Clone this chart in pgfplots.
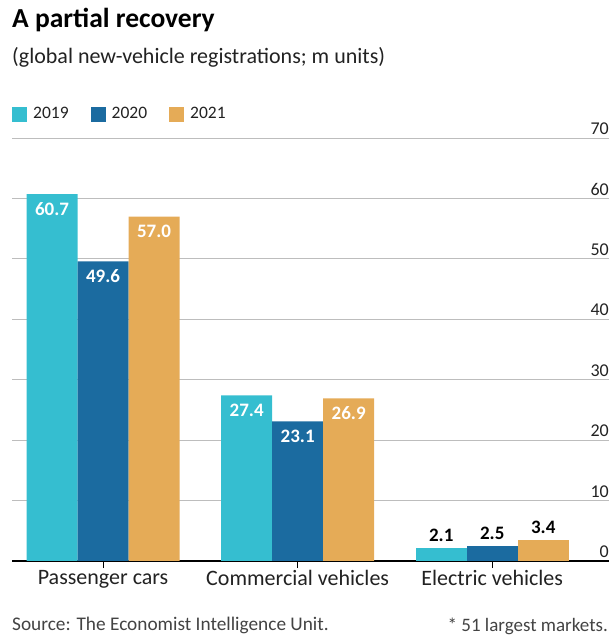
\documentclass[border=0pt]{standalone}
\usepackage{pgfplots}
\pgfplotsset{compat=1.18}
\usepackage{fontspec}
\setmainfont{Carlito}

\definecolor{c19}{HTML}{35BED0}
\definecolor{c20}{HTML}{1B6BA0}
\definecolor{c21}{HTML}{E5AB57}
\definecolor{gridc}{HTML}{BDBDBD}
\definecolor{txt}{HTML}{222222}

\begin{document}
\begin{tikzpicture}
\begin{axis}[
  at={(0,0)}, anchor=south west,
  width=597bp, height=423bp, scale only axis,
  xmin=-0.468, xmax=2.60,
  ymin=0, ymax=70,
  ybar, bar width=51bp,
  axis line style={draw=none},
  ytick={10,20,...,70},
  extra y ticks={0},
  ymajorgrids,
  grid style={gridc, line width=0.9bp},
  extra y tick style={grid style={black, line width=1.4bp}},
  ytick style={draw=none},
  yticklabel pos=right,
  yticklabel style={anchor=south east, inner sep=0pt, yshift=3bp, font=\fontsize{18bp}{20bp}\selectfont, text=txt},
  /pgf/number format/assume math mode=true,
  xtick={0,1,2},
  xticklabels={Passenger cars, Commercial vehicles, Electric vehicles},
  xtick pos=bottom, xtick align=outside,
  major tick length=7bp,
  xtick style={black, line width=0.9bp},
  xticklabel style={font=\fontsize{22bp}{24bp}\selectfont, text=txt, yshift=1bp},
  legend style={at={(0,1)}, anchor=west, yshift=24bp, draw=none, fill=none, inner sep=0pt,
    nodes={inner sep=0pt, font=\fontsize{17.5bp}{19bp}\selectfont, text=txt},
    /tikz/every odd column/.append style={column sep=6bp},
    /tikz/every even column/.append style={column sep=22bp}},
  legend columns=3,
  nodes near coords={\pgfmathprintnumber[fixed,fixed zerofill,precision=1]{\pgfplotspointmeta}},
]
\addplot[fill=c19, draw=none, bar shift=-51bp,
  legend image code/.code={\fill[c19] (0bp,-7.5bp) rectangle (15bp,7.5bp);},
  nodes near coords style={white, anchor=north, yshift=-5bp, font=\bfseries\fontsize{19bp}{21bp}\selectfont}]
  coordinates {(0,60.7) (1,27.4)};
\addplot[fill=c20, draw=none, bar shift=0bp,
  legend image code/.code={\fill[c20] (0bp,-7.5bp) rectangle (15bp,7.5bp);},
  nodes near coords style={white, anchor=north, yshift=-5bp, font=\bfseries\fontsize{19bp}{21bp}\selectfont}]
  coordinates {(0,49.6) (1,23.1)};
\addplot[fill=c21, draw=none, bar shift=51bp,
  legend image code/.code={\fill[c21] (0bp,-7.5bp) rectangle (15bp,7.5bp);},
  nodes near coords style={white, anchor=north, yshift=-5bp, font=\bfseries\fontsize{19bp}{21bp}\selectfont}]
  coordinates {(0,57.0) (1,26.9)};
\addplot[forget plot, fill=c19, draw=none, bar shift=-51bp,
  nodes near coords style={black, anchor=south, yshift=3bp, font=\bfseries\fontsize{19bp}{21bp}\selectfont}]
  coordinates {(2,2.1)};
\addplot[forget plot, fill=c20, draw=none, bar shift=0bp,
  nodes near coords style={black, anchor=south, yshift=3bp, font=\bfseries\fontsize{19bp}{21bp}\selectfont}]
  coordinates {(2,2.5)};
\addplot[forget plot, fill=c21, draw=none, bar shift=51bp,
  nodes near coords style={black, anchor=south, yshift=3bp, font=\bfseries\fontsize{19bp}{21bp}\selectfont}]
  coordinates {(2,3.4)};
\legend{2019, 2020, 2021}
\end{axis}
\node[anchor=base west, inner sep=0pt, font=\bfseries\fontsize{27.5bp}{30bp}\selectfont, text=black] at (0bp,533bp) {A partial recovery};
\node[anchor=base west, inner sep=0pt, font=\fontsize{22bp}{24bp}\selectfont, text=txt] at (0bp,497bp) {(global new-vehicle registrations; m units)};
\node[anchor=base west, inner sep=0pt, font=\fontsize{19.3bp}{21bp}\selectfont, text=txt!85] at (0bp,-69bp) {Source: The Economist Intelligence Unit.};
\node[anchor=base east, inner sep=0pt, font=\fontsize{19bp}{21bp}\selectfont, text=txt!85] at (596bp,-70bp) {* 51 largest markets.};
\pgfresetboundingbox
\path (-12bp,-77bp) rectangle (600bp,561bp);
\end{tikzpicture}
\end{document}
